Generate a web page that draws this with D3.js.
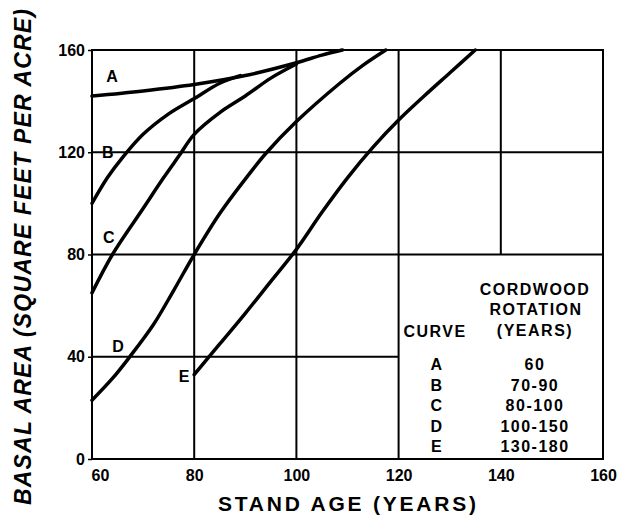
<!DOCTYPE html>
<html>
<head>
<meta charset="utf-8">
<script src="https://cdn.jsdelivr.net/npm/d3@7"></script>
<style>
  body { margin: 0; background: #fff; }
  svg { display: block; font-family: "Liberation Sans", Arial, sans-serif; }
</style>
</head>
<body>
<svg></svg>
<script>
//data
const ageTicks = [60, 80, 100, 120, 140, 160];
const basalTicks = [0, 40, 80, 120, 160];

// [stand age, basal area]
const curveA = [[60,142],[70,144],[80,146.5],[90,150],[100,155],[105,158],[109,160]];
const curveB = [[60,100],[63,110],[66,118],[70,127],[75,135],[80,141],[85,147],[89,150]];
const curveC = [[60,65],[64,80],[70,98],[74,110],[77,118.5],[80,127],[85,135.5],[90,142],[95,149],[100,154.5]];
const curveD = [[60,23],[64,31.5],[67.4,40],[72,52.5],[76,66],[80,80],[85,96],[90,109.5],[94,119.5],[100,132],[108.5,147],[113,154],[117.5,160]];
const curveE = [[80,33],[85,45],[90,57],[95,69.5],[100,82],[105,96.5],[110,110],[115,122],[120,132.6],[125,142],[130,151],[135,160]];

const curveNames = ["A", "B", "C", "D", "E"];
const labelPos = [[63.9,149.6],[63.1,120],[63.3,86.9],[65.1,44.2],[78,32.5]];
const rotations = ["60", "70-90", "80-100", "100-150", "130-180"];

//constants
const W = 622, H = 517;
const x = d3.scaleLinear().domain([60, 160]).range([92, 603]);
const y = d3.scaleLinear().domain([0, 160]).range([459, 50]);

const svg = d3.select("svg")
    .attr("width", W)
    .attr("height", H);

svg.append("rect").attr("width", W).attr("height", H).attr("fill", "#fff");

//grid (legend box in the lower right has no inner lines)
const gridV = [[80, 0, 160], [100, 0, 160], [120, 0, 160], [140, 80, 160]];
const gridH = [[120, 60, 160], [80, 60, 160], [40, 60, 120]];

svg.append("g").selectAll("line")
    .data(gridV)
    .enter().append("line")
    .attr("x1", d => x(d[0])).attr("x2", d => x(d[0]))
    .attr("y1", d => y(d[1])).attr("y2", d => y(d[2]))
    .attr("stroke", "#000").attr("stroke-width", 2);

svg.append("g").selectAll("line")
    .data(gridH)
    .enter().append("line")
    .attr("y1", d => y(d[0])).attr("y2", d => y(d[0]))
    .attr("x1", d => x(d[1])).attr("x2", d => x(d[2]))
    .attr("stroke", "#000").attr("stroke-width", 2);

//frame
svg.append("rect")
    .attr("x", x(60)).attr("y", y(160))
    .attr("width", x(160) - x(60)).attr("height", y(0) - y(160))
    .attr("fill", "none").attr("stroke", "#000").attr("stroke-width", 2);

//axes
const xAxis = svg.append("g")
    .attr("transform", "translate(0," + y(0) + ")")
    .call(d3.axisBottom(x).tickValues(ageTicks).tickSize(0).tickPadding(11));

const yAxis = svg.append("g")
    .attr("transform", "translate(" + x(60) + ",0)")
    .call(d3.axisLeft(y).tickValues(basalTicks).tickSize(4).tickPadding(3));

[xAxis, yAxis].forEach(a => {
    a.select(".domain").remove();
    a.selectAll("text")
        .style("font-family", "'Liberation Sans', Arial, sans-serif")
        .style("font-size", "16px")
        .style("font-weight", "bold")
        .attr("fill", "#000");
    a.selectAll("line").attr("stroke", "#000").attr("stroke-width", 1.5);
});
xAxis.selectAll("text").filter(d => d === 60).attr("dx", 8);

//curves
const line = d3.line()
    .x(d => x(d[0]))
    .y(d => y(d[1]))
    .curve(d3.curveCatmullRom.alpha(0.5));

svg.append("g").selectAll("path")
    .data([curveA, curveB, curveC, curveD, curveE])
    .enter().append("path")
    .attr("d", line)
    .attr("fill", "none")
    .attr("stroke", "#000")
    .attr("stroke-width", 3.5)
    .attr("stroke-linecap", "round");

//curve letters
svg.append("g").selectAll("text")
    .data(curveNames)
    .enter().append("text")
    .attr("x", (d, i) => x(labelPos[i][0]))
    .attr("y", (d, i) => y(labelPos[i][1]))
    .attr("dy", "0.36em")
    .attr("text-anchor", "middle")
    .style("font-size", "16px")
    .style("font-weight", "bold")
    .text(d => d);

//legend table
const leg = svg.append("g")
    .style("font-size", "16px")
    .style("font-weight", "bold")
    .style("letter-spacing", "1.5px")
    .attr("text-anchor", "middle");

leg.append("text").attr("x", 535).attr("y", 295).text("CORDWOOD");
leg.append("text").attr("x", 536).attr("y", 315).text("ROTATION");
leg.append("text").attr("x", 535).attr("y", 336).text("(YEARS)");
leg.append("text").attr("x", 435).attr("y", 337).text("CURVE");

leg.selectAll(".lc")
    .data(curveNames)
    .enter().append("text")
    .attr("class", "lc")
    .attr("x", 437)
    .attr("y", (d, i) => 370 + i * 20.5)
    .text(d => d);

leg.selectAll(".lr")
    .data(rotations)
    .enter().append("text")
    .attr("class", "lr")
    .attr("x", 535)
    .attr("y", (d, i) => 370 + i * 20.5)
    .text(d => d);

//axis titles
svg.append("text")
    .attr("x", 347)
    .attr("y", 511)
    .attr("text-anchor", "middle")
    .attr("textLength", 258)
    .attr("lengthAdjust", "spacing")
    .style("font-size", "21px")
    .style("font-weight", "bold")
    .text("STAND AGE (YEARS)");

svg.append("text")
    .attr("transform", "translate(31,257) rotate(-90)")
    .attr("text-anchor", "middle")
    .attr("textLength", 496)
    .attr("lengthAdjust", "spacing")
    .style("font-size", "23px")
    .style("font-weight", "bold")
    .style("font-style", "italic")
    .text("BASAL AREA (SQUARE FEET PER ACRE)");
</script>
</body>
</html>
